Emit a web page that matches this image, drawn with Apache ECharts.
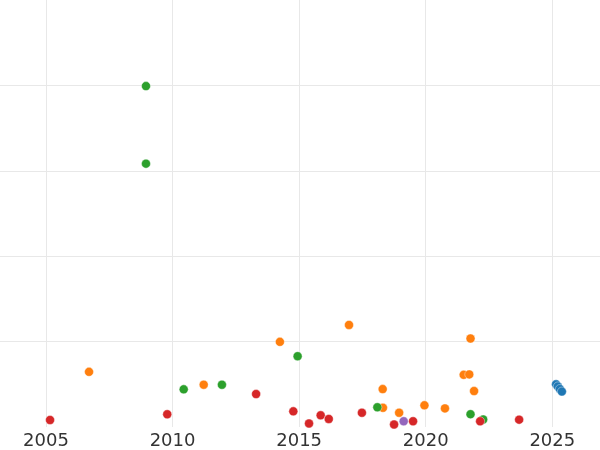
<!DOCTYPE html>
<html>
<head>
<meta charset="utf-8">
<script src="https://cdn.jsdelivr.net/npm/echarts@6/dist/echarts.min.js"></script>
<style>html,body{margin:0;padding:0;background:#fff}#c{width:600px;height:450px}</style>
</head>
<body>
<div id="c"></div>
<script>
// x tick labels (years) every 5 years
const xTicks = [2005, 2010, 2015, 2020, 2025];
// y grid lines (unlabelled)
const yTicks = [1, 2, 3, 4];

// [year, value] points per group
const blueSeries = [[2025.15, 0.50], [2025.22, 0.475], [2025.30, 0.445], [2025.38, 0.415]];
const orangeSeries = [
  [2006.70, 0.646], [2011.23, 0.495], [2014.24, 0.997], [2016.97, 1.195],
  [2018.30, 0.444], [2018.31, 0.225], [2018.95, 0.167], [2019.95, 0.254],
  [2020.76, 0.218], [2021.77, 1.036], [2021.50, 0.611], [2021.72, 0.616],
  [2021.91, 0.421]
];
const greenSeries = [
  [2008.95, 3.992], [2008.95, 3.084], [2010.44, 0.441], [2011.95, 0.495],
  [2014.94, 0.829], [2018.09, 0.231], [2021.77, 0.150], [2022.27, 0.088]
];
const redSeries = [
  [2005.16, 0.082], [2009.79, 0.149], [2013.30, 0.386], [2014.77, 0.183],
  [2015.39, 0.041], [2015.85, 0.137], [2016.17, 0.094], [2017.48, 0.167],
  [2018.75, 0.029], [2019.50, 0.067], [2022.15, 0.067], [2023.69, 0.086]
];
const purpleSeries = [[2019.13, 0.067]];

const groups = [
  {name: 'blue', data: blueSeries, color: '#1f77b4'},
  {name: 'orange', data: orangeSeries, color: '#ff7f0e'},
  {name: 'green', data: greenSeries, color: '#2ca02c'},
  {name: 'red', data: redSeries, color: '#d62728'},
  {name: 'purple', data: purpleSeries, color: '#9467bd'}
];

const chart = echarts.init(document.getElementById('c'), null, {renderer: 'canvas'});
const gridLine = {show: true, lineStyle: {color: '#e8e8e8', width: 1}};
chart.setOption({
  animation: false,
  backgroundColor: '#ffffff',
  grid: {left: 0, right: 0, top: -1, bottom: 23, containLabel: false},
  xAxis: {
    type: 'value', min: 2003.183, max: 2026.885,
    axisLine: {show: false},
    axisTick: {show: false, customValues: xTicks},
    splitLine: gridLine,
    axisLabel: {
      customValues: xTicks, formatter: v => String(v),
      margin: 5, color: '#333333', fontSize: 18, fontFamily: 'DejaVu Sans'
    }
  },
  yAxis: {
    type: 'value', min: 0, max: 5,
    axisLine: {show: false},
    axisTick: {show: false, customValues: yTicks},
    axisLabel: {show: false, customValues: yTicks},
    splitLine: gridLine
  },
  series: groups.map(g => ({
    name: g.name, type: 'scatter', data: g.data, symbolSize: 9, clip: true,
    itemStyle: {color: g.color, opacity: 1, borderColor: '#ffffff', borderWidth: 0.4}
  }))
});
</script>
</body>
</html>
